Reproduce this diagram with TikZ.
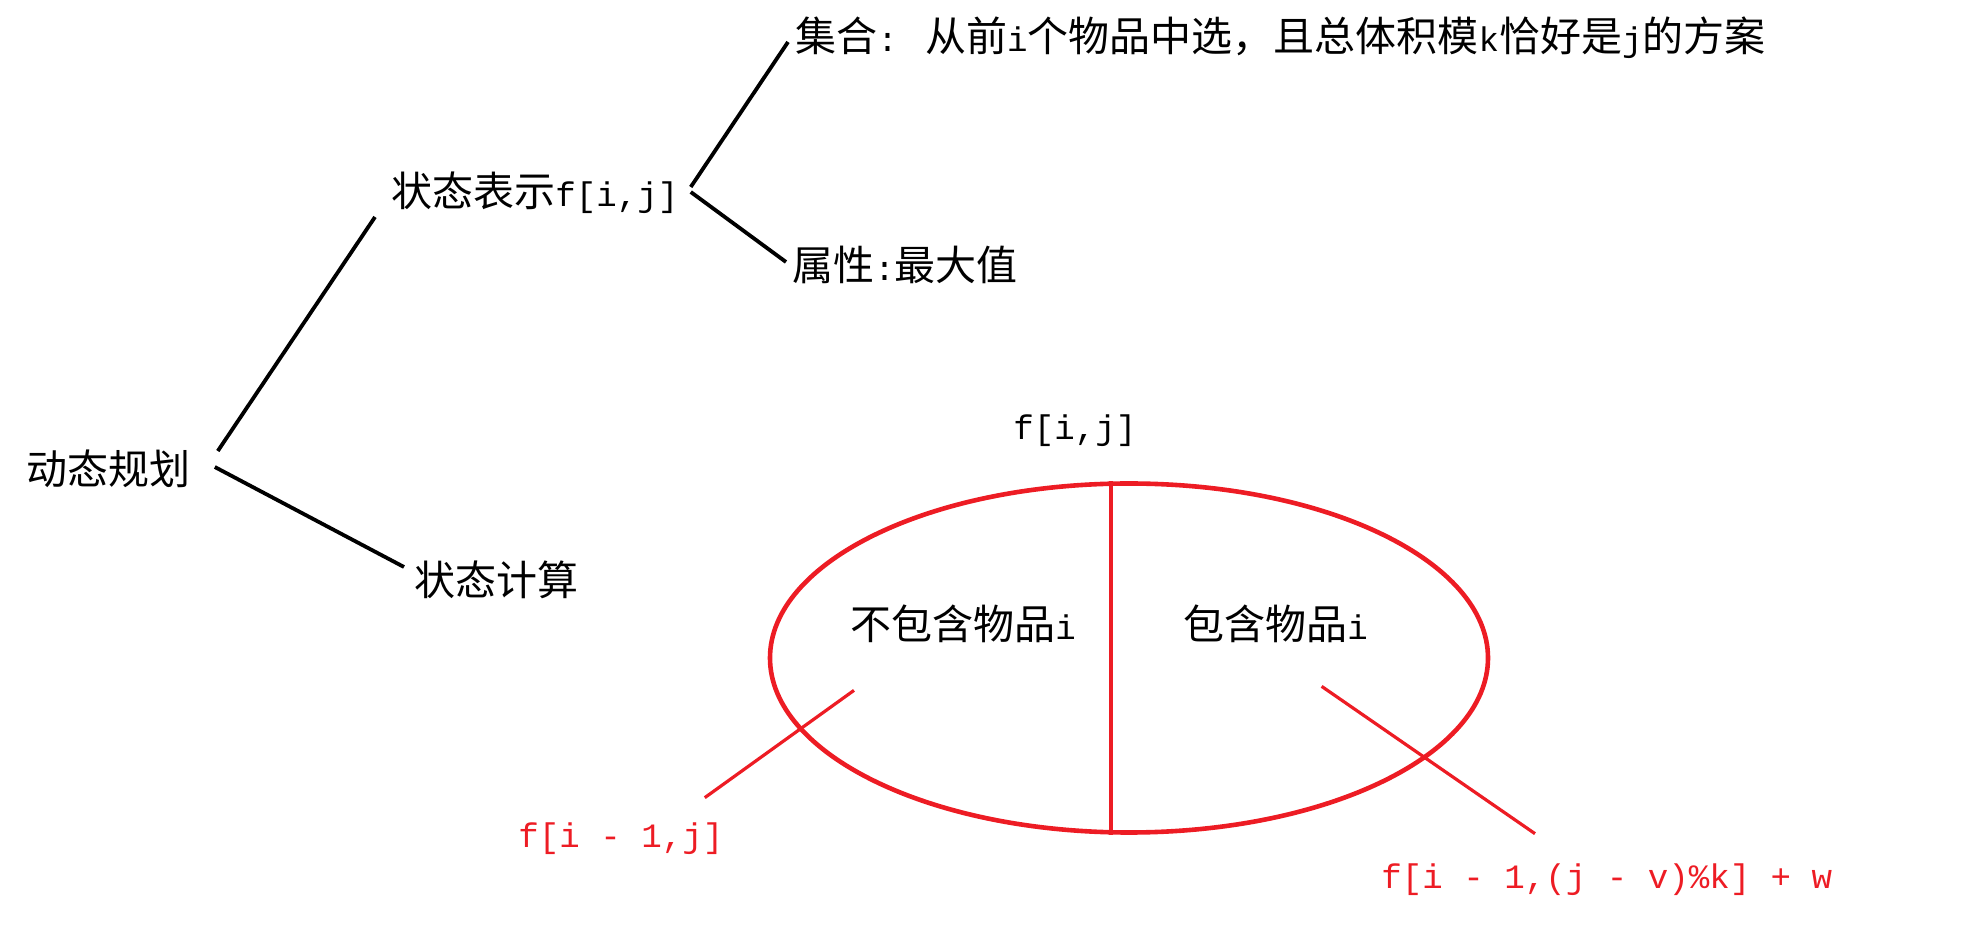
\documentclass[tikz,border=0pt]{standalone}
\usepackage{fontspec}
\setmainfont{Liberation Mono}[Scale=0.833]
\newfontfamily\cjk{Noto Sans CJK SC}
\usepackage{tikz}
\usetikzlibrary{shapes.geometric}
\usepackage{xcolor}
\definecolor{dpred}{RGB}{237,28,36}
\newcommand{\zh}[1]{{\cjk #1}}
\tikzstyle{txt} = [inner sep=0pt, anchor=west, font=\fontsize{20.5pt}{24pt}\selectfont]
\tikzstyle{redtxt} = [txt, text=dpred]
\tikzstyle{branch} = [line width=1.9pt, color=black]
\tikzstyle{split} = [line width=1.6pt, color=dpred]

\begin{document}
\begin{tikzpicture}[x=0.5pt, y=-0.5pt]
\useasboundingbox (0,0) rectangle (1967,940);
% Tree of the method
\node[txt] (dp) at (26,469) {\zh{动态规划}};
\node[txt] (repr) at (391,193) {\zh{状态表示}f[i,j]};
\node[txt] (calc) at (414,580) {\zh{状态计算}};
\node[txt] (set) at (795,38) {\zh{集合}: \zh{从前}i\zh{个物品中选，且总体积模}k\zh{恰好是}j\zh{的方案}};
\node[txt] (attr) at (792,265) {\zh{属性}:\zh{最大值}};

% Branches
\draw[branch] ([shift={(27,-18)}]dp.east) -- ([shift={(-16,24)}]repr.west);
\draw[branch] ([shift={(24,-2)}]dp.east) -- ([shift={(-10,-13)}]calc.west);
\draw[branch] ([shift={(12,-6)}]repr.east) -- ([shift={(-7,4)}]set.west);
\draw[branch] ([shift={(12,-1)}]repr.east) -- ([shift={(-6,-3)}]attr.west);

% Splitting the set f[i,j]
\node[txt] (fij) at (1013,431) {f[i,j]};
\node[ellipse, draw=dpred, line width=2.3pt, minimum width=359pt, minimum height=174.5pt, inner sep=0pt] (whole) at (1129,658) {};
\draw[split] ([xshift=-9]whole.north) -- ([xshift=-9]whole.south);
\node[txt] (excl) at (850,624) {\zh{不包含物品}i};
\node[txt] (incl) at (1183,624) {\zh{包含物品}i};

% Transitions
\node[redtxt] (fexcl) at (518,839) {f[i - 1,j]};
\node[redtxt] (fincl) at (1381,880) {f[i - 1,(j - v)\%k] + w};
\draw[split] ([shift={(4,47)}]excl.south west) -- ([shift={(-19,-25)}]fexcl.north east);
\draw[split] ([shift={(46,43)}]incl.south) -- ([shift={(154,-30)}]fincl.north west);
\end{tikzpicture}
\end{document}
